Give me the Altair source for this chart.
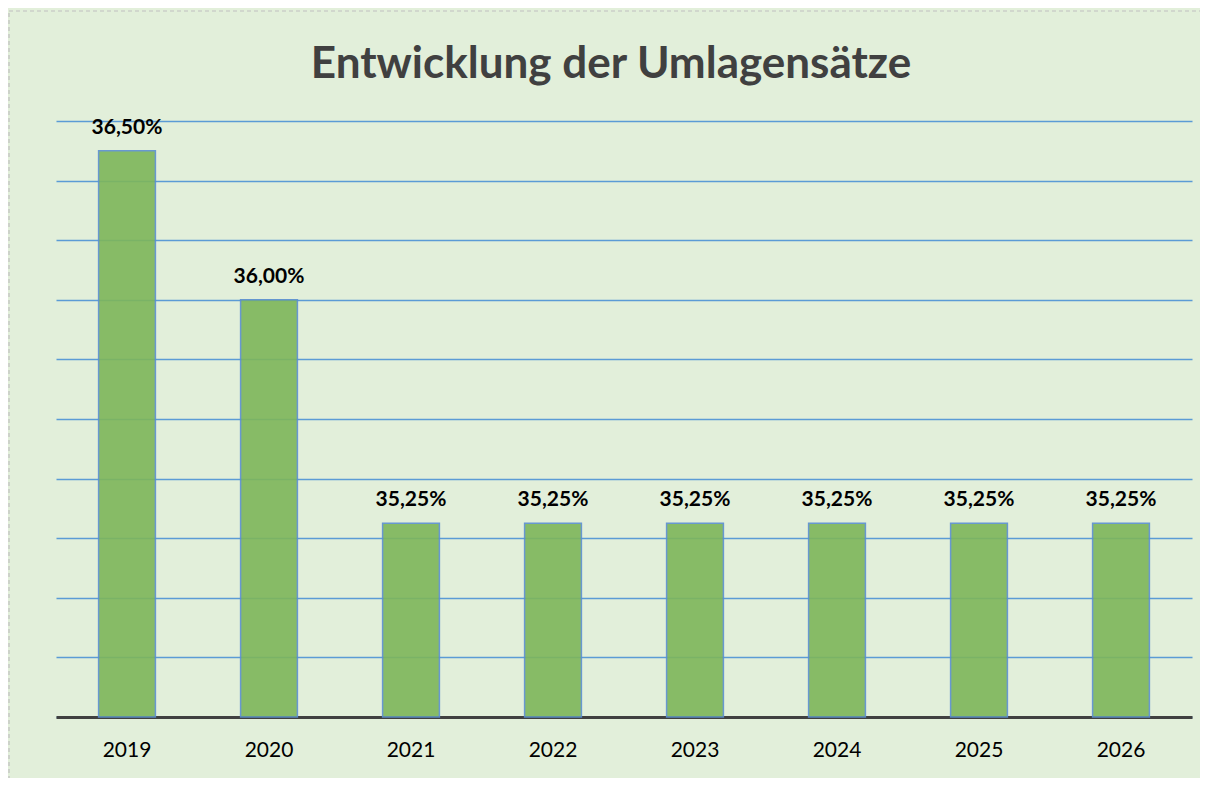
import altair as alt
import pandas as pd

years = ["2019", "2020", "2021", "2022", "2023", "2024", "2025", "2026"]
rates = [36.50, 36.00, 35.25, 35.25, 35.25, 35.25, 35.25, 35.25]
labels = [f"{v:.2f}%".replace(".", ",") for v in rates]
y_min, y_max = 34.6, 36.6
grid_values = [34.6, 34.8, 35.0, 35.2, 35.4, 35.6, 35.8, 36.0, 36.2, 36.4, 36.6]
title_text = "Entwicklung der Umlagensätze"

df = pd.DataFrame({
    "Jahr": years,
    "Satz": rates,
    "Label": labels,
    "Basis": [y_min] * len(years),
})

x = alt.X(
    "Jahr:N", sort=years, title=None,
    scale=alt.Scale(paddingInner=0.6, paddingOuter=0.3),
    axis=alt.Axis(labelAngle=0, ticks=False, domainColor="#404040", domainWidth=3,
                  labelFont="Lato", labelFontSize=21, labelColor="#000000",
                  labelPadding=22),
)
y = alt.Y(
    "Satz:Q", title=None,
    scale=alt.Scale(domain=[y_min, y_max], zero=False, nice=False),
    axis=alt.Axis(values=grid_values, labels=False, ticks=False, domain=False,
                  gridColor="#5B9BD5", gridWidth=1.6),
)

base = alt.Chart(df)
one = alt.Chart(pd.DataFrame({"t": [title_text]}))

border = one.mark_rect(
    fillOpacity=0, stroke="#BFBFBF", strokeDash=[4, 3], strokeWidth=1.2
).encode(
    x=alt.value(-47), x2=alt.value(1170), y=alt.value(-110), y2=alt.value(720)
)

title = one.mark_text(
    font="Lato", fontSize=44, fontWeight="bold", color="#404040",
    align="center", baseline="alphabetic"
).encode(x=alt.value(555), y=alt.value(-43), text="t:N")

bars = base.mark_bar(
    color="#7EB65A", stroke="#5B8FD0", strokeWidth=1.5, opacity=0.9
).encode(x=x, y=y, y2="Basis:Q")

text = base.mark_text(
    font="Lato", fontWeight="bold", fontSize=21, baseline="alphabetic",
    dy=-17, color="#000000"
).encode(x=x, y=y, text="Label:N")

chart = alt.layer(border, bars, text, title).properties(
    width=1136,
    height=596,
    autosize=alt.AutoSizeParams(type="none"),
    padding={"left": 48, "top": 113, "right": 8, "bottom": 61},
).configure(background="#E2EFDA").configure_view(stroke=None)

chart.save("out.html", embed_options={"renderer": "svg", "actions": False})
